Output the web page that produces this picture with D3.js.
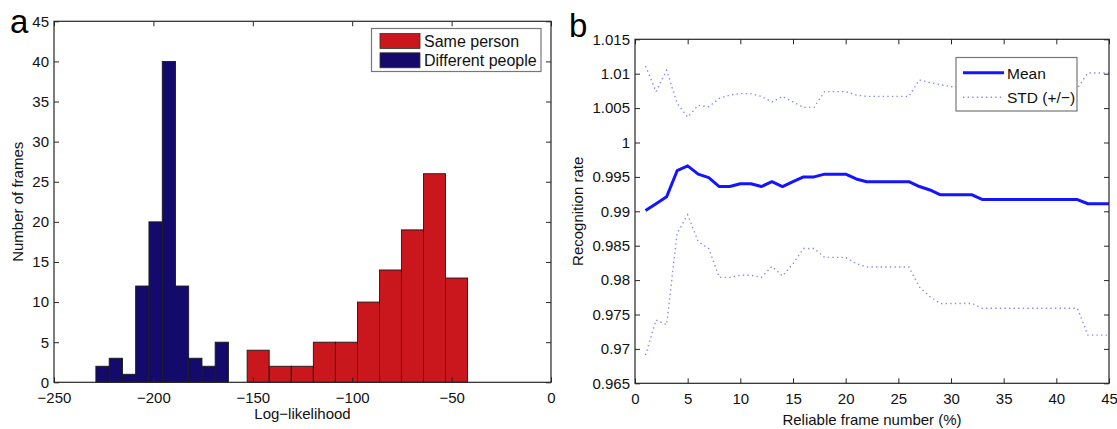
<!DOCTYPE html>
<html>
<head>
<meta charset="utf-8">
<script src="https://cdn.jsdelivr.net/npm/d3@7"></script>
<style>
  body { margin: 0; background: #fff; }
  svg { display: block; font-family: "Liberation Sans", Arial, Helvetica, sans-serif; }
  .tick text { font-size: 15px; fill: #111; }
  .tick line { stroke: #262626; }
  .frame { fill: none; stroke: #262626; stroke-width: 1.2; }
</style>
</head>
<body>
<svg id="fig" width="1117" height="429"></svg>
<script>
/* =======================
   DATA
======================= */

// panel a: histogram of log-likelihood
const diffCenters = [-225.6, -218.9, -212.2, -205.6, -198.9, -192.2, -185.6, -178.9, -172.2, -165.6];
const diffCounts = [2, 3, 1, 12, 20, 40, 12, 3, 2, 5];
const diffBinWidth = 6.67;

const sameCenters = [-147.3, -136.2, -125.1, -114.0, -102.9, -91.8, -80.7, -69.7, -58.6, -47.5];
const sameCounts = [4, 2, 2, 5, 5, 10, 14, 19, 26, 13];
const sameBinWidth = 11.09;

const histXTicks = [-250, -200, -150, -100, -50, 0];
const histYTicks = [0, 5, 10, 15, 20, 25, 30, 35, 40, 45];

// panel b: recognition rate vs reliable frame number
const frameNumbers = [1, 2, 3, 4, 5, 6, 7, 8, 9, 10, 11, 12, 13, 14, 15, 16, 17, 18, 19, 20,
  21, 22, 23, 24, 25, 26, 27, 28, 29, 30, 31, 32, 33, 34, 35, 36, 37, 38, 39, 40,
  41, 42, 43, 44, 45];
const meanRate = [0.9901, 0.9911, 0.9921, 0.9959, 0.9966, 0.9954, 0.9949, 0.9936, 0.9936, 0.9940,
  0.9940, 0.9936, 0.9943, 0.9936, 0.9943, 0.9950, 0.9950, 0.9954, 0.9954, 0.9954,
  0.9947, 0.9943, 0.9943, 0.9943, 0.9943, 0.9943, 0.9936, 0.9931, 0.9924, 0.9924,
  0.9924, 0.9924, 0.9917, 0.9917, 0.9917, 0.9917, 0.9917, 0.9917, 0.9917, 0.9917,
  0.9917, 0.9917, 0.9911, 0.9911, 0.9911];
const stdUpper = [1.0111, 1.0074, 1.0105, 1.0057, 1.0037, 1.0054, 1.0052, 1.0064, 1.0069, 1.0071,
  1.0071, 1.0067, 1.0059, 1.0067, 1.0059, 1.0051, 1.0051, 1.0074, 1.0074, 1.0074,
  1.0069, 1.0067, 1.0067, 1.0067, 1.0067, 1.0067, 1.0091, 1.0087, 1.0084, 1.0081,
  1.0082, 1.0082, 1.0076, 1.0076, 1.0076, 1.0076, 1.0076, 1.0076, 1.0076, 1.0077,
  1.0078, 1.0079, 1.0101, 1.0101, 1.0101];
const stdLower = [0.9691, 0.9742, 0.9735, 0.9868, 0.9895, 0.9856, 0.9846, 0.9804, 0.9804, 0.9807,
  0.9807, 0.9804, 0.9820, 0.9806, 0.9824, 0.9846, 0.9846, 0.9833, 0.9833, 0.9833,
  0.9824, 0.9819, 0.9819, 0.9819, 0.9819, 0.9819, 0.9790, 0.9776, 0.9766, 0.9766,
  0.9766, 0.9766, 0.9759, 0.9759, 0.9759, 0.9759, 0.9759, 0.9759, 0.9759, 0.9759,
  0.9759, 0.9759, 0.9720, 0.9720, 0.9720];

const rateXTicks = [0, 5, 10, 15, 20, 25, 30, 35, 40, 45];
const rateYTicks = [0.965, 0.97, 0.975, 0.98, 0.985, 0.99, 0.995, 1, 1.005, 1.01, 1.015];

/* =======================
   HELPERS
======================= */

const svg = d3.select("#fig");

// MATLAB-style box with inward ticks on all four sides
const drawBox = (x, y, xTicks, yTicks, xFmt, yFmt) => {
  const [x0, x1] = x.range();
  const [y0, y1] = y.range(); // y0 bottom, y1 top
  const g = svg.append("g");

  g.append("g").attr("transform", `translate(0,${y0})`)
    .call(d3.axisBottom(x).tickValues(xTicks).tickSizeInner(-5).tickSizeOuter(0).tickPadding(10).tickFormat(xFmt));
  g.append("g").attr("transform", `translate(0,${y1})`)
    .call(d3.axisTop(x).tickValues(xTicks).tickSizeInner(-5).tickSizeOuter(0).tickFormat(""));
  g.append("g").attr("transform", `translate(${x0},0)`)
    .call(d3.axisLeft(y).tickValues(yTicks).tickSizeInner(-5).tickSizeOuter(0).tickPadding(5).tickFormat(yFmt));
  g.append("g").attr("transform", `translate(${x1},0)`)
    .call(d3.axisRight(y).tickValues(yTicks).tickSizeInner(-5).tickSizeOuter(0).tickFormat(""));

  g.selectAll(".domain").remove();
  g.selectAll(".tick text").attr("font-family", null).attr("font-size", null);
  g.append("rect").attr("class", "frame")
    .attr("x", x0).attr("y", y1).attr("width", x1 - x0).attr("height", y0 - y1);
  return g;
};

const minus = s => String(s).replace("-", "\u2212");

/* =======================
   PANEL A
======================= */

const xHist = d3.scaleLinear().domain([-250, 0]).range([54, 551]);
const yHist = d3.scaleLinear().domain([0, 45]).range([382.3, 21.3]);

const drawBars = (centers, counts, binWidth, fill) => {
  svg.append("g").selectAll("rect")
    .data(centers.map((c, i) => ({ c, n: counts[i] })))
    .join("rect")
    .attr("x", d => xHist(d.c - binWidth / 2))
    .attr("width", d => xHist(d.c + binWidth / 2) - xHist(d.c - binWidth / 2))
    .attr("y", d => yHist(d.n))
    .attr("height", d => yHist(0) - yHist(d.n))
    .attr("fill", fill)
    .attr("stroke", "#1a1a1a")
    .attr("stroke-width", 0.9);
};

drawBars(diffCenters, diffCounts, diffBinWidth, "#130a6c");
drawBars(sameCenters, sameCounts, sameBinWidth, "#c9171d");

drawBox(xHist, yHist, histXTicks, histYTicks, d => minus(d), d => d);

// legend a
const legA = svg.append("g");
legA.append("rect").attr("x", 371.5).attr("y", 28.5).attr("width", 169.5).attr("height", 43)
  .attr("fill", "#fff").attr("stroke", "#777").attr("stroke-width", 1.2);
[["Same person", "#c9171d"], ["Different people", "#130a6c"]].forEach(([label, col], i) => {
  legA.append("rect").attr("x", 380).attr("y", 33.5 + i * 19.3).attr("width", 40).attr("height", 15)
    .attr("fill", col).attr("stroke", "#333").attr("stroke-width", 0.8);
  legA.append("text").attr("x", 424).attr("y", 47 + i * 19.3)
    .attr("font-size", 16).attr("fill", "#111").text(label);
});

svg.append("text").attr("x", (54 + 551) / 2).attr("y", 419).attr("text-anchor", "middle")
  .attr("font-size", 15).attr("fill", "#111").text("Log\u2212likelihood");
svg.append("text").attr("transform", `translate(23,${(21.3 + 382.3) / 2}) rotate(-90)`)
  .attr("text-anchor", "middle").attr("font-size", 15).attr("fill", "#111").text("Number of frames");
svg.append("text").attr("x", 10).attr("y", 33).attr("font-size", 33).attr("fill", "#000").text("a");

/* =======================
   PANEL B
======================= */

const xRate = d3.scaleLinear().domain([0, 45]).range([635, 1109]);
const yRate = d3.scaleLinear().domain([0.965, 1.015]).range([383.3, 39.3]);

const rateLine = d3.line()
  .x((d, i) => xRate(frameNumbers[i]))
  .y(d => yRate(d));

[stdUpper, stdLower].forEach(series => {
  svg.append("path").datum(series).attr("d", rateLine)
    .attr("fill", "none").attr("stroke", "#8a8aff").attr("stroke-width", 1.4)
    .attr("stroke-dasharray", "1.4,3.2");
});
svg.append("path").datum(meanRate).attr("d", rateLine)
  .attr("fill", "none").attr("stroke", "#1414ff").attr("stroke-width", 3)
  .attr("stroke-linejoin", "round");

drawBox(xRate, yRate, rateXTicks, rateYTicks, d => d, d => String(d));

// legend b
const legB = svg.append("g");
legB.append("rect").attr("x", 956).attr("y", 57.5).attr("width", 121).attr("height", 53.5)
  .attr("fill", "#fff").attr("stroke", "#777").attr("stroke-width", 1.2);
legB.append("line").attr("x1", 963).attr("x2", 1004).attr("y1", 72.7).attr("y2", 72.7)
  .attr("stroke", "#1414ff").attr("stroke-width", 3);
legB.append("line").attr("x1", 963).attr("x2", 1004).attr("y1", 97.3).attr("y2", 97.3)
  .attr("stroke", "#8a8aff").attr("stroke-width", 1.4).attr("stroke-dasharray", "1.4,3.2");
legB.append("text").attr("x", 1007).attr("y", 78.5).attr("font-size", 15.5).attr("fill", "#111").text("Mean");
legB.append("text").attr("x", 1007).attr("y", 103.3).attr("font-size", 15.5).attr("fill", "#111").text("STD (+/\u2212)");

svg.append("text").attr("x", (635 + 1109) / 2).attr("y", 425).attr("text-anchor", "middle")
  .attr("font-size", 15).attr("fill", "#111").text("Reliable frame number (%)");
svg.append("text").attr("transform", `translate(583,${(39.3 + 383.3) / 2}) rotate(-90)`)
  .attr("text-anchor", "middle").attr("font-size", 15).attr("fill", "#111").text("Recognition rate");
svg.append("text").attr("x", 569).attr("y", 37).attr("font-size", 33).attr("fill", "#000").text("b");
</script>
</body>
</html>
